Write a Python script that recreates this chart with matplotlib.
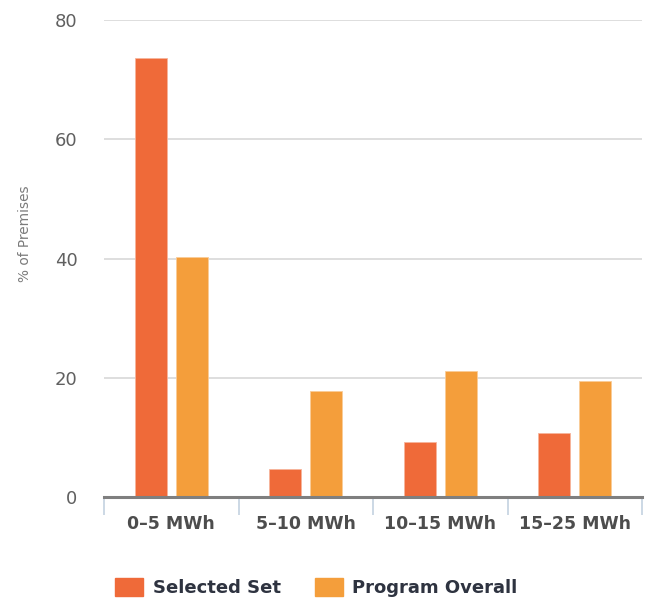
import matplotlib.pyplot as plt
from matplotlib.patches import Patch
import numpy as np

categories = ['0–5 MWh', '5–10 MWh', '10–15 MWh', '15–25 MWh']
selected_set = [73.7, 4.7, 9.3, 10.8]
program_overall = [40.3, 17.7, 21.2, 19.4]
y_ticks = [0, 20, 40, 60, 80]

c_sel = '#EF6A39'
c_prog = '#F49E3B'

fig = plt.figure(figsize=(6.54, 6.0), dpi=100)
ax = fig.add_axes([104 / 654, 103 / 600, 538 / 654, 477 / 600])

x = np.arange(len(categories))
w = 0.238
ax.bar(x - 0.152, selected_set, w, color=c_sel, edgecolor='#F7B59C', linewidth=0.6, zorder=3)
ax.bar(x + 0.152, program_overall, w, color=c_prog, edgecolor='#F9CC98', linewidth=0.6, zorder=3)

ax.set_xlim(-0.5, len(categories) - 0.5)
ax.set_ylim(0, 80)
ax.set_yticks(y_ticks)
ax.set_yticklabels([str(v) for v in y_ticks], color='#606060', fontsize=13)
ax.tick_params(axis='y', length=0, pad=19)
ax.grid(axis='y', color='#D8D8D8', linewidth=1.2, zorder=0)

# category labels centred, tick marks on the boundaries
ax.set_xticks(x)
ax.set_xticklabels(categories, fontsize=12.5, fontweight='bold', color='#4D4D4D')
ax.tick_params(axis='x', which='major', length=0, pad=13)
ax.set_xticks(np.arange(len(categories) + 1) - 0.5, minor=True)
ax.tick_params(axis='x', which='minor', length=13, width=1.2, color='#C4D2E0')

for side in ['top', 'right', 'left']:
    ax.spines[side].set_visible(False)
ax.spines['bottom'].set_color('#7F7F7F')
ax.spines['bottom'].set_linewidth(2.2)
ax.spines['bottom'].set_zorder(4)

fig.text(25 / 654, (600 - 234) / 600, '% of Premises', rotation=90, ha='center', va='center',
         color='#7A7A7A', fontsize=9.8)

handles = [Patch(facecolor=c_sel, edgecolor=c_sel, label='Selected Set'),
           Patch(facecolor=c_prog, edgecolor=c_prog, label='Program Overall')]
fig.legend(handles=handles, loc='lower left', bbox_to_anchor=(99 / 654, -0.022), ncol=2,
           frameon=False, prop={'size': 13, 'weight': 'bold'}, labelcolor='#2E3340',
           handlelength=1.55, handleheight=1.15, handletextpad=0.55, columnspacing=1.85)

fig.savefig('out.png', dpi=100)
